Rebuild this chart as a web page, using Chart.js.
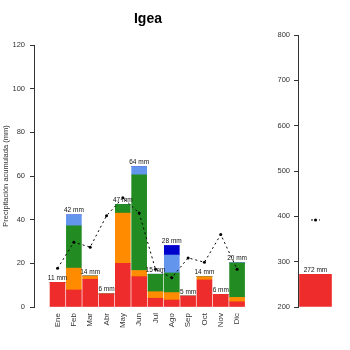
<!DOCTYPE html>
<html lang="es">
<head>
<meta charset="UTF-8">
<title>Igea</title>
<style>
  html, body { margin: 0; padding: 0; background: #fff; }
  #wrap { position: relative; width: 350px; height: 350px; }
  #monthCanvas { position: absolute; left: 0; top: 0; }
  #yearCanvas { position: absolute; left: 250px; top: 0; }
  #title {
    position: absolute; left: 0; top: 10px; width: 296px; line-height: 17px;
    text-align: center; font: bold 14px 'Liberation Sans', Arial, sans-serif; color: #000;
  }
</style>
</head>
<body>
<div id="wrap">
  <canvas id="monthCanvas" width="296" height="350"></canvas>
  <canvas id="yearCanvas" width="100" height="350"></canvas>
  <div id="title">Igea</div>
</div>
<script src="https://cdn.jsdelivr.net/npm/chart.js@4.4.0/dist/chart.umd.min.js"></script>
<script>
// monthly precipitation split by type (mm)
const months = ['Ene', 'Feb', 'Mar', 'Abr', 'May', 'Jun', 'Jul', 'Ago', 'Sep', 'Oct', 'Nov', 'Dic'];
const redPart    = [11.3, 7.8, 12.7, 6.0, 20.0, 13.9, 4.0, 3.2, 5.0, 12.4, 5.8, 2.4];
const orangePart = [0, 10.0, 1.5, 0, 23.0, 2.8, 3.0, 3.4, 0, 1.5, 0, 2.0];
const greenPart  = [0, 19.4, 0, 0, 4.0, 43.8, 8.0, 9.0, 0, 0, 0, 15.8];
const lightBluePart = [0, 5.0, 0, 0, 0, 3.8, 0, 8.2, 0, 0, 0, 0];
const darkBluePart  = [0, 0, 0, 0, 0, 0, 0, 4.4, 0, 0, 0, 0];
const monthlyMean = [17.7, 29.7, 27.4, 41.8, 50.0, 43.0, 17.3, 13.4, 22.5, 20.5, 33.2, 17.3];
const monthTicks = [0, 20, 40, 60, 80, 100, 120];

// annual total
const years = ['2017'];
const yearTotal = [272];
const yearMean = 392;
const yearTicks = [200, 300, 400, 500, 600, 700, 800];

const FONT = "'Liberation Sans', Arial, sans-serif";
const TXT = '#333';

const totalLabels = {
  id: 'totalLabels',
  afterDatasetsDraw(chart) {
    const ctx = chart.ctx;
    const bars = chart.data.datasets.filter(d => d.type === 'bar');
    const n = bars[0].data.length;
    ctx.save();
    ctx.font = '6.5px ' + FONT;
    ctx.fillStyle = '#111';
    ctx.textAlign = 'center';
    ctx.textBaseline = 'bottom';
    for (let i = 0; i < n; i++) {
      let sum = 0;
      bars.forEach(d => { sum += d.data[i].y; });
      const x = chart.scales.x.getPixelForValue(bars[0].data[i].x);
      const y = chart.scales.y.getPixelForValue(sum);
      ctx.fillText(Math.round(sum) + ' mm', x, y - 1);
    }
    ctx.restore();
  }
};

function barSet(label, values, color) {
  return {
    type: 'bar', label: label,
    data: values.map((v, i) => ({ x: i, y: v })),
    backgroundColor: color, borderWidth: 0,
    barThickness: 15, order: 1
  };
}

new Chart(document.getElementById('monthCanvas'), {
  data: {
    datasets: [
      barSet('rojo', redPart, '#EE2C2C'),
      barSet('naranja', orangePart, '#FF8C00'),
      barSet('verde', greenPart, '#228B22'),
      barSet('azul claro', lightBluePart, '#6495ED'),
      barSet('azul', darkBluePart, '#0000CD'),
      {
        type: 'line', label: 'media', stack: 'mean', order: 0,
        data: monthlyMean.map((v, i) => ({ x: i, y: v })),
        borderColor: '#000', borderWidth: 1, borderDash: [2, 3],
        pointRadius: 1.5, pointBackgroundColor: '#000', pointBorderWidth: 0
      }
    ]
  },
  options: {
    responsive: false,
    animation: false,
    devicePixelRatio: 1,
    layout: { padding: { top: 45, right: 38, bottom: 0, left: 0 } },
    plugins: {
      legend: { display: false },
      tooltip: { enabled: false }
    },
    scales: {
      x: {
        type: 'linear', min: -0.871, max: 11.71, stacked: true,
        grid: { display: false, drawTicks: false }, border: { display: false },
        ticks: {
          stepSize: 1, includeBounds: false, autoSkip: false,
          minRotation: 90, maxRotation: 90, padding: 6,
          color: TXT, font: { family: FONT, size: 8 },
          callback: v => months[v] ?? ''
        },
        afterFit: s => { s.height = 43; }
      },
      y: {
        min: 0, max: 120, stacked: true,
        afterBuildTicks: s => { s.ticks = monthTicks.map(v => ({ value: v })); },
        ticks: { padding: 5, color: TXT, font: { family: FONT, size: 7.5 } },
        grid: { drawOnChartArea: false, tickLength: 4, color: '#333' },
        border: { color: '#333' },
        title: {
          display: true, text: 'Precipitación acumulada (mm)', color: TXT,
          font: { family: FONT, size: 7.5 }, padding: { top: 1, bottom: 0 }
        },
        afterFit: s => { s.width = 34; }
      }
    }
  },
  plugins: [totalLabels]
});

new Chart(document.getElementById('yearCanvas'), {
  data: {
    datasets: [
      {
        type: 'bar', label: 'total',
        data: yearTotal.map((v, i) => ({ x: i, y: v })),
        backgroundColor: '#EE2C2C', borderWidth: 0,
        barThickness: 32, base: yearTicks[0], order: 1
      },
      {
        type: 'line', label: 'media', order: 0,
        data: [{ x: -0.25, y: yearMean }, { x: 0, y: yearMean }, { x: 0.25, y: yearMean }],
        borderColor: '#000', borderWidth: 1, borderDash: [2, 2],
        pointRadius: [0, 1.5, 0], pointBackgroundColor: '#000', pointBorderWidth: 0
      }
    ]
  },
  options: {
    responsive: false,
    animation: false,
    devicePixelRatio: 1,
    layout: { padding: { top: 35, right: 16, bottom: 0, left: 0 } },
    plugins: { legend: { display: false }, tooltip: { enabled: false } },
    scales: {
      x: {
        type: 'linear', min: -0.472, max: 0.528,
        grid: { display: false, drawTicks: false }, border: { display: false },
        ticks: {
          stepSize: 1, includeBounds: false, autoSkip: false, maxRotation: 0,
          padding: 9, color: TXT, font: { family: FONT, size: 8 },
          callback: v => years[v] ?? ''
        },
        afterFit: s => { s.height = 43; }
      },
      y: {
        min: 200, max: 800,
        afterBuildTicks: s => { s.ticks = yearTicks.map(v => ({ value: v })); },
        ticks: { padding: 4, color: TXT, font: { family: FONT, size: 7.5 } },
        grid: { drawOnChartArea: false, tickLength: 4, color: '#333' },
        border: { color: '#333' },
        afterFit: s => { s.width = 48; }
      }
    }
  },
  plugins: [totalLabels]
});
</script>
</body>
</html>
